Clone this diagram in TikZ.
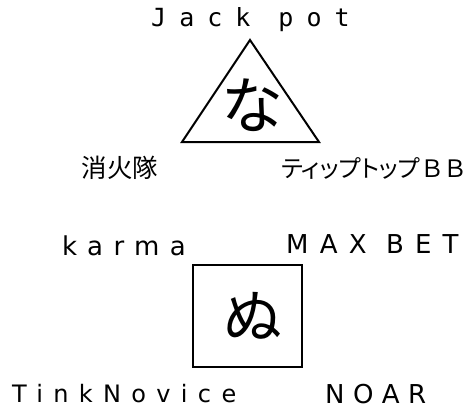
\documentclass[tikz,border=0pt]{standalone}
\usepackage{fontspec}
\setmainfont{DejaVu Sans}
\newfontfamily\mono{DejaVu Sans Mono}
\newfontfamily\jp{Noto Sans CJK JP}
\newfontfamily\jpp[RawFeature=+palt]{Noto Sans CJK JP}
\begin{document}
\begin{tikzpicture}[x=1pt,y=-1pt,
  lab/.style 2 args={inner sep=0pt,anchor=base west,font=\fontsize{#1}{#1}\selectfont\addfontfeature{LetterSpace=#2}},
  jlab/.style={inner sep=0pt,font=\jp\fontsize{25.5}{25.5}\selectfont},
  big/.style={inner sep=0pt,font=\jp\fontsize{#1}{#1}\selectfont},
  outline/.style={draw=black,line width=2pt}]
\useasboundingbox (0,0) rectangle (465,412);
\node[inner sep=0pt,anchor=base west,font=\mono\fontsize{25}{25}\selectfont\addfontfeature{LetterSpace=52}] (jack) at (151,27) {Jack pot};
\coordinate (ta) at (250,40);
\coordinate (tl) at (182,142);
\coordinate (tr) at (319,142);
\draw[outline,line join=miter] (ta) -- (tl) -- (tr) -- cycle;
\node[big=62] (na) at (252,105) {な};
\node[jlab] (fire) at (120,168) {消火隊};
\node[inner sep=0pt,anchor=west,font=\jpp\fontsize{24}{24}\selectfont] (tip) at (281,168) {ティップトップ\hspace{2pt}Ｂ\hspace{3pt}Ｂ};
\node[lab={26}{40}] (karma) at (62,255) {karma};
\node[lab={26}{43}] (max) at (286,253) {MAX BET};
\node[outline,minimum width=109pt,minimum height=102pt,inner sep=0pt] (sq) at (247.5,316) {};
\node[big=59] (nu) at (253,316) {ぬ};
\node[lab={24}{43}] (tink) at (12,402) {TinkNovice};
\node[lab={26}{33}] (noar) at (325,403) {NOAR};
\end{tikzpicture}
\end{document}
